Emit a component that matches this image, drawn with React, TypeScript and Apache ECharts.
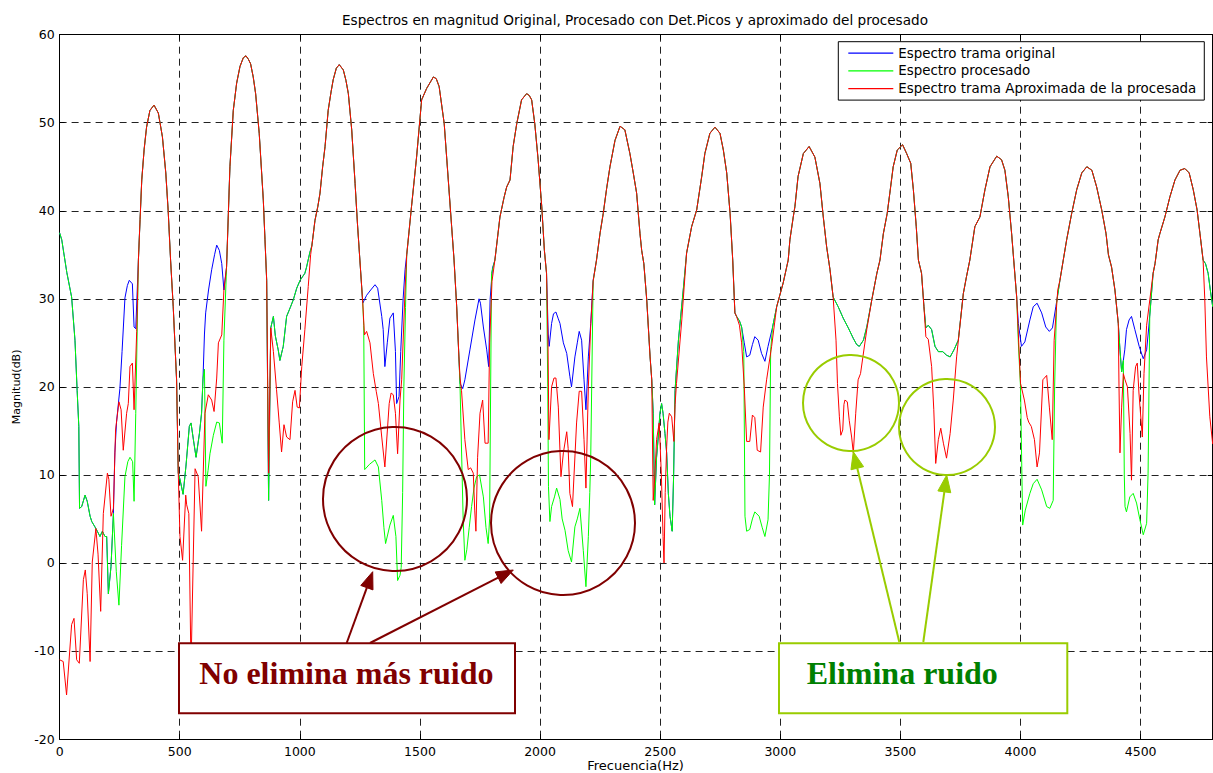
import React, { useEffect, useRef } from "react";
import * as echarts from "echarts";

// ---------- axis ticks ----------
const X_TICKS = [0, 500, 1000, 1500, 2000, 2500, 3000, 3500, 4000, 4500];
const X_MAX = 4800;
const Y_TICKS = [-20, -10, 0, 10, 20, 30, 40, 50, 60];

const TITLE = "Espectros en magnitud Original, Procesado con Det.Picos y aproximado del procesado";
const X_NAME = "Frecuencia(Hz)";
const Y_NAME = "Magnitud(dB)";
const SERIES_NAMES = ["Espectro trama original", "Espectro procesado", "Espectro trama Aproximada de la procesada"];
const NOTE_BAD = "No elimina más ruido";
const NOTE_GOOD = "Elimina ruido";

// ---------- data: [frequency Hz, magnitude dB] ----------
// formant peaks, common to the three spectra
const PEAKS = [
  [328, 34.4], [335, 39], [342, 43.5], [352, 47], [362, 49.5], [376, 51.4], [393, 52], [411, 51.1], [428, 48.4], [442, 44.3], [452, 40], [462, 34.4], [473, 29.1], [487, 20.8], [494, 10.2],
  [695, 33.6], [709, 45], [723, 51.4], [737, 54.5], [751, 56.4], [765, 57.4], [776, 57.6], [786, 57.2], [795, 56.7], [806, 55.2], [816, 53.3], [831, 48.8], [848, 41.2], [855, 36.7], [862, 32.1],
  [1050, 36], [1063, 38.9], [1075, 40.5], [1084, 42], [1095, 45], [1105, 47.3], [1118, 51.4], [1130, 53.5], [1139, 54.9], [1152, 56.2], [1164, 56.6], [1181, 56], [1192, 54.8], [1202, 53.3], [1216, 49.2], [1230, 43.1], [1240, 38.5], [1250, 34.4], [1262, 29.5],
  [1445, 35], [1465, 40.5], [1486, 46.1], [1507, 52.6], [1528, 53.9], [1556, 55.2], [1568, 55], [1580, 54.1], [1601, 49.9], [1618, 43.5], [1632, 38.2], [1642, 34.4], [1653, 29.1], [1662, 23.5],
  [1812, 34.4], [1833, 39.3], [1850, 41.5], [1861, 42.7], [1875, 43.5], [1888, 47.3], [1903, 49.9], [1923, 52.6], [1944, 53.3], [1955, 53.1], [1965, 52.6], [1978, 49.9], [1992, 45.8], [2007, 40.5], [2018, 35.5], [2027, 32.9],
  [2235, 34.4], [2250, 37.5], [2263, 39.7], [2277, 42.5], [2291, 45], [2312, 48], [2333, 49.6], [2353, 49.2], [2374, 46.5], [2388, 44.3], [2402, 42], [2416, 37.4], [2423, 35.5], [2432, 34], [2444, 29.9], [2458, 23.4], [2465, 20.8],
  [2610, 35.2], [2631, 38.2], [2652, 40.1], [2673, 43.9], [2686, 46.5], [2707, 48.8], [2728, 49.5], [2749, 48.8], [2763, 46.9], [2777, 44.3], [2791, 39.7], [2802, 34.4], [2811, 28.4], [2818, 28],
  [2985, 29.1], [3012, 31.8], [3033, 34.4], [3040, 36.7], [3054, 39.3], [3061, 40.5], [3074, 43.9], [3096, 46.5], [3120, 47.3], [3144, 46.1], [3165, 43.1], [3179, 39.3], [3193, 35.9], [3207, 33.3], [3220, 30.2],
  [3415, 34.4], [3429, 37.4], [3445, 39.7], [3456, 42], [3470, 45], [3487, 46.9], [3509, 47.5], [3526, 46.5], [3543, 45.4], [3554, 42.4], [3566, 38.2], [3575, 34.4], [3588, 32.9], [3598, 29.1],
  [3762, 30.6], [3775, 32.5], [3789, 34.4], [3810, 38.2], [3831, 39.3], [3852, 42.4], [3873, 45], [3901, 46.2], [3921, 45.8], [3935, 44.6], [3949, 41.6], [3963, 37.4], [3970, 35], [3984, 30.2],
  [4178, 34.4], [4192, 36.7], [4213, 39.7], [4234, 42.4], [4255, 44.3], [4276, 45], [4297, 44.6], [4317, 42.7], [4338, 40.1], [4356, 37.4], [4366, 35], [4379, 33.6], [4393, 31], [4407, 27.2],
  [4560, 34], [4573, 36.7], [4580, 37.4], [4601, 39.3], [4622, 41.6], [4643, 43.5], [4664, 44.6], [4684, 44.8], [4702, 44.3], [4719, 42.4], [4735, 40.1], [4747, 37.4], [4760, 34.4],
];

// valleys where original and processed spectra coincide
const BLUE_GREEN = [
  [0, 37.5], [9, 36.7], [30, 33], [50, 30.2], [64, 25.3], [73, 19.6], [80, 15.5], [83, 6.2], [92, 6.4], [106, 7.7], [115, 7], [127, 5.3], [134, 4.7], [147, 4.1], [157, 3.6], [168, 3.0], [178, 3.6], [189, 3.0], [196, 3.0], [203, -3.5], [214, -0.4], [224, 5.6],
  [501, 9.5], [514, 7.8], [526, 11], [540, 15.5], [547, 15.9], [557, 14], [568, 12], [582, 14.7], [591, 17], [597, 21],
  [870, 7.1], [879, 26.7], [890, 28], [898, 25.8], [910, 24.2], [917, 23], [931, 24.6], [945, 28], [960, 29], [973, 29.9], [987, 31.2], [1001, 32.1], [1021, 32.9], [1028, 33.6], [1042, 35.3],
  [2471, 17], [2477, 6.6], [2485, 12], [2492, 14.3], [2499, 17], [2506, 18.1], [2512, 17], [2520, 14.7], [2527, 12.5], [2534, 7.9], [2541, 5.3], [2550, 3.6], [2556, 10], [2562, 19.6], [2576, 25.3], [2596, 31],
  [2830, 27.5], [2839, 26.8],
  [3241, 29.1], [3262, 27.8], [3283, 26.7], [3304, 25.5], [3318, 24.8], [3329, 24.6], [3346, 25.3], [3360, 26.8], [3381, 29.9], [3402, 32.9],
  [3606, 26.7], [3616, 27], [3630, 26.5], [3644, 24.6], [3658, 24], [3676, 24], [3692, 23.6], [3707, 23.4], [3723, 24.2], [3741, 25.3],
  [4414, 24.2], [4421, 21.7], [4428, 23],
  [4770, 34], [4781, 32.9], [4790, 31], [4800, 29.1],
];

// original spectrum only
const BLUE_ONLY = [
  [230, 12.5], [237, 16], [251, 19.8], [260, 24], [272, 30.1], [282, 31.5], [290, 32.1], [303, 31.7], [310, 26.8], [317, 26.6],
  [603, 26], [608, 28.4], [620, 31], [633, 33.3], [645, 35], [654, 36.1], [665, 35.5], [675, 34], [684, 31],
  [1278, 30.4], [1295, 31], [1313, 31.6], [1324, 31.2], [1341, 28], [1347, 26.5], [1354, 22.3], [1364, 25], [1375, 27.8], [1389, 28.4], [1398, 24], [1403, 18.1], [1413, 18.9], [1420, 24], [1430, 30], [1438, 33.3],
  [1667, 20.4], [1678, 19.8], [1687, 20.8], [1708, 24.2], [1729, 27.6], [1746, 30], [1752, 29.5], [1764, 26.8], [1778, 24.2], [1786, 22.3], [1792, 29.9], [1802, 33.5],
  [2034, 26], [2038, 24.6], [2048, 27.2], [2056, 28.3], [2066, 28.5], [2075, 27.8], [2083, 27.2], [2097, 25], [2111, 23.8], [2124, 21.2], [2131, 20], [2145, 23.4], [2155, 25], [2163, 26.3], [2173, 25.3], [2183, 20.8], [2191, 17.4], [2201, 23.4], [2211, 27.2], [2221, 32.1],
  [2850, 25], [2860, 23.4], [2873, 23.6], [2884, 24.8], [2894, 25.7], [2908, 25.3], [2922, 23.8], [2936, 22.9], [2949, 24.6], [2968, 26.8],
  [3991, 27.2], [4004, 24.6], [4018, 25.1], [4039, 27.6], [4053, 29.1], [4069, 29.5], [4088, 28.4], [4105, 26.8], [4120, 26.3], [4133, 26.7], [4147, 29.1], [4164, 32.1],
  [4434, 24.2], [4441, 26.5], [4452, 27.6], [4462, 28], [4476, 26.5], [4494, 24.6], [4511, 23.2], [4525, 24.2], [4534, 26.8], [4552, 32.9],
];

// processed spectrum only
const GREEN_ONLY = [
  [236, -1], [247, -4.8], [258, 2], [272, 9.8], [284, 11.5], [293, 12], [304, 11.5], [310, 7], [317, 17],
  [603, 22], [609, 8.7], [618, 10.5], [626, 12.4], [640, 14.5], [654, 16], [665, 15.9], [677, 13.6], [684, 25.3],
  [1266, 27], [1270, 10.6], [1290, 11.2], [1313, 11.7], [1327, 10.9], [1341, 7.1], [1350, 4], [1357, 2.2], [1375, 4.3], [1389, 5.4], [1400, 3], [1407, -2], [1417, -1.4], [1422, -0.5], [1428, 8], [1433, 20], [1440, 29],
  [1667, 20], [1680, 4.9], [1687, 0.3], [1695, 1.5], [1705, 4], [1715, 6.4], [1725, 8.5], [1736, 9.8], [1748, 10], [1764, 7.5], [1775, 4], [1784, 2.2], [1790, 5], [1798, 32.9],
  [2032, 20], [2035, 8.7], [2041, 4.7], [2048, 6.4], [2060, 7.5], [2069, 8.5], [2083, 7.2], [2092, 5], [2104, 3.7], [2117, 1.4], [2131, 0.1], [2145, 4.1], [2155, 5], [2166, 6.2], [2180, 1.4], [2191, -2.7], [2201, 3], [2207, 8], [2211, 12.1], [2221, 32],
  [2848, 24], [2853, 5.3], [2860, 3.6], [2873, 3.8], [2884, 5], [2894, 5.8], [2912, 5.3], [2925, 4], [2936, 3], [2949, 4.9], [2955, 10], [2960, 24.2], [2968, 26.8],
  [3991, 25], [4000, 20], [4009, 4.3], [4020, 6], [4039, 7.9], [4053, 9], [4069, 9.5], [4088, 8.3], [4109, 6.4], [4122, 6.2], [4136, 7.1], [4142, 20], [4150, 29.5], [4164, 32.1],
  [4432, 10], [4435, 6.4], [4441, 5.8], [4455, 7.5], [4469, 7.9], [4483, 6.8], [4497, 4.9], [4511, 3.2], [4525, 4.5], [4531, 10.2], [4538, 28], [4552, 32.9],
];

// approximated spectrum (valleys)
const RED_ONLY = [
  [0, -11], [15, -11.2], [29, -15], [50, -7], [60, -6.3], [71, -11], [82, -11.4], [99, -1.9], [107, -0.8], [115, -3.5], [127, -11.2], [136, 0.1], [151, 3.9], [160, 1], [171, -5.5], [182, 5.6], [199, 10.2], [205, 9.5], [214, 5.3], [224, 6.2], [233, 15.1], [247, 18.3], [256, 17.4], [265, 12.8], [279, 17], [286, 18.1], [293, 22.3], [303, 22.7], [310, 17.4], [321, 26.3],
  [501, 3.0], [512, 0.3], [525, 7.7], [529, 6.6], [538, 5.6], [547, -12], [556, 0], [564, 10.7], [577, 9.8], [591, 3.6], [605, 17], [619, 19.1], [633, 18.5], [643, 17.2], [654, 21], [661, 25], [675, 25.9], [684, 31],
  [870, 10.2], [879, 26.7], [890, 24], [903, 19.7], [914, 16], [924, 12.6], [934, 15.7], [945, 14.3], [959, 14], [970, 18.3], [980, 19.6], [989, 17.7], [998, 17.6], [1008, 22.3], [1021, 26.5], [1035, 31.4], [1045, 35],
  [1269, 25.9], [1278, 26.3], [1292, 25], [1306, 21.5], [1318, 19.5], [1327, 18.1], [1341, 14.3], [1354, 10.9], [1372, 18.1], [1380, 19.3], [1389, 19.1], [1398, 17], [1407, 12.4], [1417, 18.5], [1424, 20.8], [1438, 31],
  [1667, 21], [1673, 19.6], [1687, 14], [1701, 10.6], [1711, 10.8], [1722, 10.2], [1728, 6], [1733, 3.6], [1740, 12], [1750, 17], [1761, 18.5], [1771, 13.6], [1784, 13.6], [1790, 25], [1800, 32],
  [2033, 25], [2037, 14], [2048, 20], [2058, 21], [2066, 21], [2076, 17.7], [2087, 9.8], [2097, 12.5], [2111, 14.9], [2117, 13], [2124, 7.9], [2135, 6.4], [2152, 15.9], [2163, 19.5], [2173, 19.5], [2183, 14], [2191, 8.5], [2201, 20], [2211, 27], [2221, 32],
  [2471, 7.1], [2478, 10], [2485, 14], [2496, 15.9], [2505, 10], [2512, 3], [2516, 0], [2521, 8], [2527, 13.2], [2532, 16], [2538, 17], [2548, 16.6], [2557, 13.8], [2562, 18], [2568, 20.4], [2590, 27.6],
  [2830, 27], [2839, 25], [2850, 20], [2860, 13.8], [2873, 13.8], [2884, 16.8], [2894, 16.5], [2904, 12.8], [2918, 12.6], [2929, 17.7], [2943, 20.8], [2964, 24.6],
  [3232, 25.3], [3238, 20.4], [3246, 16.6], [3252, 14.5], [3260, 15.1], [3265, 18], [3269, 18.5], [3279, 18.3], [3287, 16.2], [3297, 14.3], [3304, 12.5], [3314, 17], [3324, 20.8], [3334, 21.5], [3360, 26.5], [3381, 29.9], [3402, 32.9],
  [3606, 25.7], [3616, 25.4], [3630, 22.3], [3639, 17.4], [3647, 11.3], [3658, 14], [3668, 15.3], [3679, 13.6], [3692, 11.9], [3707, 14.7], [3720, 18.5], [3734, 23.4],
  [3991, 26], [4000, 20.4], [4016, 18.5], [4028, 16.5], [4034, 16], [4045, 15.5], [4058, 14], [4069, 10.9], [4079, 12.5], [4093, 20.8], [4109, 21.3], [4120, 17.7], [4132, 14], [4140, 25.3], [4155, 31], [4164, 32.1],
  [4410, 20], [4414, 12.5], [4421, 17.7], [4428, 21.5], [4435, 20.8], [4445, 20], [4456, 14.7], [4462, 9.4], [4469, 19.6], [4479, 22.3], [4486, 22.7], [4493, 19.3], [4507, 14.3], [4514, 21.5], [4525, 27], [4552, 32.9],
  [4767, 30], [4774, 23.4], [4788, 16.6], [4800, 13.5],
];

const build = (...parts: number[][][]) => parts.flat().slice().sort((a, b) => a[0] - b[0]);

const DARK_RED = "#800000";
const LIME = "#99cc00";
const DARK_GREEN = "#008000";
const SANS = "DejaVu Sans";
const SERIF = "Liberation Serif";

function arrow(x0: number, y0: number, x1: number, y1: number, color: string) {
  const dx = x1 - x0, dy = y1 - y0;
  const len = Math.hypot(dx, dy);
  const ux = dx / len, uy = dy / len;
  const L = 17, W = 6.5;
  const bx = x1 - ux * L, by = y1 - uy * L;
  return [
    { type: "line", z: 100, shape: { x1: x0, y1: y0, x2: bx, y2: by }, style: { stroke: color, lineWidth: 2 } },
    {
      type: "polygon", z: 100,
      shape: { points: [[x1, y1], [bx - uy * W, by + ux * W], [bx + uy * W, by - ux * W]] },
      style: { fill: color, stroke: color, lineWidth: 1 },
    },
  ];
}

export default function App() {
  const ref = useRef<HTMLDivElement>(null);
  useEffect(() => {
    if (!ref.current) return;
    const chart = echarts.init(ref.current, undefined, { renderer: "svg" });
    const xInterval = X_TICKS[1] - X_TICKS[0];
    const yInterval = Y_TICKS[1] - Y_TICKS[0];
    const xAxisBase = { type: "value", min: X_TICKS[0], max: X_MAX, interval: xInterval };
    const yAxisBase = { type: "value", min: Y_TICKS[0], max: Y_TICKS[Y_TICKS.length - 1], interval: yInterval };
    const axisLine = { show: true, onZero: false, lineStyle: { color: "#000", width: 1 } };
    const tick = { show: true, inside: true, length: 5, lineStyle: { color: "#000" } };
    const grid = { show: true, lineStyle: { color: "#222", width: 1, type: [7, 5] } };
    const labelStyle = { color: "#000", fontSize: 12.5, fontFamily: SANS, formatter: (v: number) => String(v) };

    const blue = build(PEAKS, BLUE_GREEN, BLUE_ONLY);
    const green = build(PEAKS, BLUE_GREEN, GREEN_ONLY);
    const red = build(PEAKS, RED_ONLY);

    const line = (name: string, data: number[][], color: string) => ({
      name, type: "line", data, symbol: "none", showSymbol: false, clip: true,
      lineStyle: { color, width: 1 }, itemStyle: { color },
      emphasis: { disabled: true },
    });

    chart.setOption({
      animation: false,
      backgroundColor: "#fff",
      grid: { left: 59.6, right: 0.3, top: 34.7, bottom: 34, containLabel: false, outerBoundsMode: "none" },
      legend: {
        orient: "vertical",
        left: 838.3, top: 41.7,
        icon: "rect",
        itemWidth: 45, itemHeight: 1.3, itemGap: 4.7,
        padding: [5, 8, 5, 10],
        borderColor: "#000", borderWidth: 1, backgroundColor: "#fff",
        textStyle: { color: "#000", fontSize: 13.4, fontFamily: SANS, lineHeight: 13 },
        data: SERIES_NAMES,
      },
      xAxis: [
        {
          ...xAxisBase, position: "bottom",
          axisLine, axisTick: tick,
          axisLabel: { ...labelStyle, margin: 6, showMaxLabel: false },
          splitLine: grid,
        },
        {
          ...xAxisBase, position: "top",
          axisLine, axisTick: tick, axisLabel: { show: false }, splitLine: { show: false },
        },
      ],
      yAxis: [
        {
          ...yAxisBase, position: "left",
          name: Y_NAME, nameLocation: "middle", nameGap: 38, nameRotate: 90,
          nameTextStyle: { color: "#000", fontSize: 11, fontFamily: SANS },
          axisLine, axisTick: tick,
          axisLabel: { ...labelStyle, margin: 5 },
          splitLine: grid,
        },
        {
          ...yAxisBase, position: "right",
          axisLine, axisTick: tick, axisLabel: { show: false }, splitLine: { show: false },
        },
      ],
      series: [
        line(SERIES_NAMES[0], blue, "#0000ff"),
        line(SERIES_NAMES[1], green, "#00ff00"),
        line(SERIES_NAMES[2], red, "#ff0000"),
      ],
      graphic: [
        {
          type: "text", z: 100, x: 635, y: 20,
          style: { text: TITLE, fill: "#000", font: `13.6px '${SANS}'`, align: "center", verticalAlign: "middle" },
        },
        {
          type: "text", z: 100, x: 635.5, y: 765,
          style: { text: X_NAME, fill: "#000", font: `13px '${SANS}'`, align: "center", verticalAlign: "middle" },
        },
        { type: "circle", z: 100, shape: { cx: 395, cy: 499, r: 72 }, style: { fill: "none", stroke: DARK_RED, lineWidth: 2 } },
        { type: "circle", z: 100, shape: { cx: 563, cy: 523, r: 72 }, style: { fill: "none", stroke: DARK_RED, lineWidth: 2 } },
        { type: "circle", z: 100, shape: { cx: 851, cy: 403, r: 48 }, style: { fill: "none", stroke: LIME, lineWidth: 2 } },
        { type: "circle", z: 100, shape: { cx: 947, cy: 427, r: 48 }, style: { fill: "none", stroke: LIME, lineWidth: 2 } },
        ...arrow(346.7, 643, 372.7, 571.7, DARK_RED),
        ...arrow(370, 643, 513.3, 570, DARK_RED),
        ...arrow(899.3, 642, 853.3, 451.7, LIME),
        ...arrow(923.3, 642, 946.7, 475, LIME),
        { type: "rect", z: 101, shape: { x: 179, y: 643.3, width: 336, height: 70 }, style: { fill: "#fff", stroke: DARK_RED, lineWidth: 2 } },
        {
          type: "text", z: 102, x: 199.3, y: 673,
          style: { text: NOTE_BAD, fill: DARK_RED, font: `bold 32px '${SERIF}'`, verticalAlign: "middle" },
        },
        { type: "rect", z: 101, shape: { x: 779, y: 643.3, width: 288.3, height: 70 }, style: { fill: "#fff", stroke: LIME, lineWidth: 2 } },
        {
          type: "text", z: 102, x: 806.7, y: 673,
          style: { text: NOTE_GOOD, fill: DARK_GREEN, font: `bold 32px '${SERIF}'`, verticalAlign: "middle" },
        },
      ],
    });
    return () => chart.dispose();
  }, []);
  return (
    <div
      ref={ref}
      style={{ position: "fixed", left: 0, top: 0, width: 1213, height: 773, background: "#fff" }}
    />
  );
}
